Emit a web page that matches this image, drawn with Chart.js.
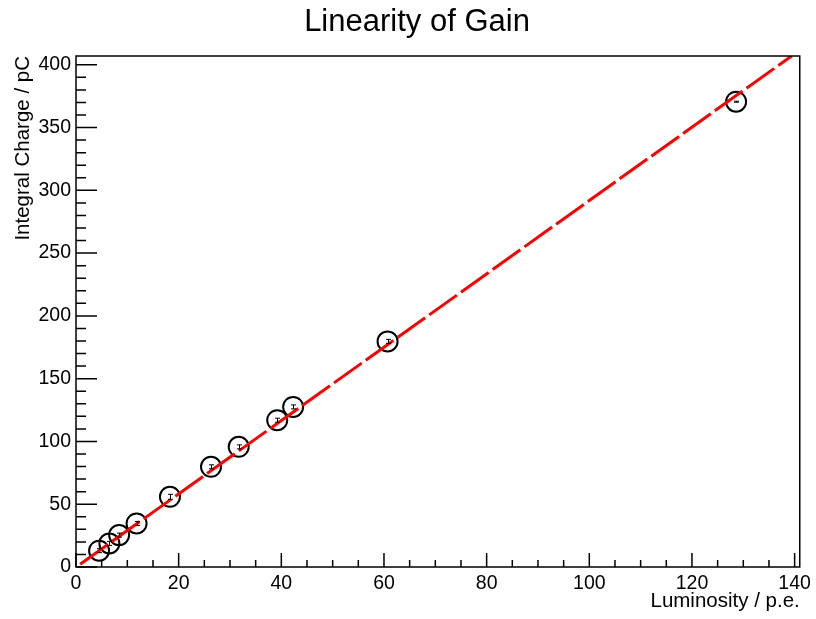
<!DOCTYPE html>
<html>
<head>
<meta charset="utf-8">
<script src="https://cdn.jsdelivr.net/npm/chart.js@4.4.0/dist/chart.umd.min.js"></script>
<style>
  html, body { margin:0; padding:0; background:#fff; }
  #wrap { width:816px; height:619px; }
</style>
</head>
<body>
<div id="wrap"><canvas id="chart" width="816" height="619"></canvas></div>
<script>
// Data
const lumi   = [4.5, 6.5, 8.4, 11.8, 18.3, 26.3, 31.7, 39.2, 42.3, 60.7, 128.6];
const charge = [13.0, 18.8, 25.4, 34.7, 55.9, 79.8, 95.7, 116.9, 127.5, 179.7, 370.6];
const chargeErr = [1.6, 1.6, 1.6, 1.6, 2.0, 1.6, 1.6, 1.6, 1.6, 1.6, 0.4];

// Linear fit drawn as a dashed line
const fitX = [0.8, 139.4];
const fitY = [2.2, 407];

const xTicks = [0, 20, 40, 60, 80, 100, 120, 140];
const yTicks = [0, 50, 100, 150, 200, 250, 300, 350, 400];

const FONT = "'Liberation Sans', Helvetica, Arial, sans-serif";

// ROOT style frame, inward ticks, error bars and title
const rootStyle = {
  id: 'rootStyle',
  afterDatasetsDraw(chart) {
    const ctx = chart.ctx, x = chart.scales.x, y = chart.scales.y;
    ctx.save();
    // error bars
    ctx.strokeStyle = '#000';
    ctx.lineWidth = 1;
    lumi.forEach((v, i) => {
      const px = Math.round(x.getPixelForValue(v)) + 0.5;
      const lo = y.getPixelForValue(charge[i] - chargeErr[i]);
      const hi = y.getPixelForValue(charge[i] + chargeErr[i]);
      ctx.beginPath();
      ctx.moveTo(px, lo); ctx.lineTo(px, hi);
      ctx.moveTo(px - 2.5, lo); ctx.lineTo(px + 2.5, lo);
      ctx.moveTo(px - 2.5, hi); ctx.lineTo(px + 2.5, hi);
      ctx.stroke();
    });
    ctx.restore();
  },
  afterDraw(chart) {
    const ctx = chart.ctx, x = chart.scales.x, y = chart.scales.y;
    const a = chart.chartArea;
    ctx.save();
    ctx.strokeStyle = '#000';
    ctx.lineWidth = 1.5;
    ctx.strokeRect(a.left, a.top, a.right - a.left, a.bottom - a.top);
    ctx.beginPath();
    for (let v = 0; v <= 140; v += 5) {
      const px = x.getPixelForValue(v);
      const len = v % 20 === 0 ? 14 : 7;
      ctx.moveTo(px, a.bottom); ctx.lineTo(px, a.bottom - len);
    }
    for (let v = 0; v <= 400; v += 10) {
      const py = y.getPixelForValue(v);
      const len = v % 50 === 0 ? 21 : 10;
      ctx.moveTo(a.left, py); ctx.lineTo(a.left + len, py);
    }
    ctx.stroke();
    // title
    ctx.fillStyle = '#000';
    ctx.font = '31px ' + FONT;
    ctx.textAlign = 'center';
    ctx.textBaseline = 'alphabetic';
    ctx.fillText('Linearity of Gain', 417, 31);
    ctx.restore();
  }
};

new Chart(document.getElementById('chart'), {
  type: 'scatter',
  data: {
    datasets: [
      {
        type: 'line',
        data: fitX.map((v, i) => ({ x: v, y: fitY[i] })),
        borderColor: '#ff0000',
        borderWidth: 3,
        borderDash: [34, 5],
        pointRadius: 0,
        fill: false,
        order: 0
      },
      {
        data: lumi.map((v, i) => ({ x: v, y: charge[i] })),
        pointStyle: 'circle',
        pointRadius: 10,
        borderColor: '#000',
        borderWidth: 2,
        backgroundColor: 'rgba(0,0,0,0)',
        order: 1
      }
    ]
  },
  options: {
    responsive: false,
    animation: false,
    layout: { padding: { top: 56, right: 15, left: 0, bottom: 0 } },
    plugins: { legend: { display: false }, tooltip: { enabled: false }, title: { display: false } },
    scales: {
      x: {
        type: 'linear', min: 0, max: 141,
        grid: { display: false, drawTicks: false }, border: { display: false },
        afterBuildTicks: s => { s.ticks = xTicks.map(v => ({ value: v })); },
        afterFit: s => { s.height = 52; },
        ticks: { padding: 5, color: '#000', font: { family: FONT, size: 19.5 }, maxRotation: 0 },
        title: { display: true, text: 'Luminosity / p.e.', align: 'end', color: '#000',
                 font: { family: FONT, size: 20.5 }, padding: { top: 0, bottom: 5 } }
      },
      y: {
        type: 'linear', min: 0, max: 407,
        grid: { display: false, drawTicks: false }, border: { display: false },
        afterBuildTicks: s => { s.ticks = yTicks.map(v => ({ value: v })); },
        afterFit: s => { s.width = 76; },
        ticks: { padding: 5, color: '#000', font: { family: FONT, size: 19.5 } },
        title: { display: true, text: 'Integral Charge / pC', align: 'end', color: '#000',
                 font: { family: FONT, size: 20.5 }, padding: { top: 11, bottom: 0 } }
      }
    }
  },
  plugins: [rootStyle]
});
</script>
</body>
</html>
